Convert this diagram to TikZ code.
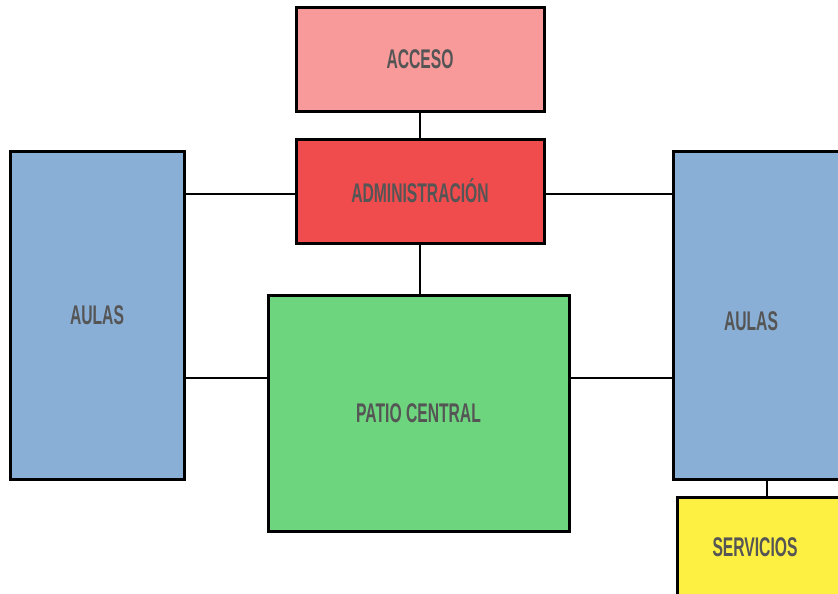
\documentclass[tikz,border=0pt]{standalone}
\usepackage{fontspec}
\setmainfont{Liberation Sans}
\usepackage{graphicx}
\usetikzlibrary{positioning,calc}

\definecolor{accesoC}{HTML}{F8999A}
\definecolor{adminC}{HTML}{F04C4E}
\definecolor{aulaC}{HTML}{8AAFD6}
\definecolor{patioC}{HTML}{6ED57F}
\definecolor{servC}{HTML}{FDF042}
\definecolor{txtC}{HTML}{555555}

\newcommand{\zona}[1]{\scalebox{0.58}[1]{\bfseries #1}}

\begin{document}
\begin{tikzpicture}[
  x=1pt, y=-1pt,
  zone/.style={draw=black, line width=3pt, inner sep=0pt, outer sep=0pt,
    font=\fontsize{27}{29}\selectfont, text=txtC},
  wall/.style={line width=2.5pt, black},
  lbl/.style={font=\fontsize{27}{29}\selectfont, text=txtC}
]
  \useasboundingbox (0,0) rectangle (838,594);
  \clip (0,0) rectangle (838,594);

  % ── Zones ──
  \node[zone, fill=accesoC, minimum width=248pt, minimum height=103pt]
    (acceso) at (420,59.5) {\zona{ACCESO}};
  \node[zone, fill=adminC, minimum width=248pt, minimum height=104pt]
    (admin) at (420,191) {\raisebox{-3pt}{\zona{ADMINISTRACIÓN}}};
  \node[zone, fill=aulaC, minimum width=174pt, minimum height=328pt]
    (aulaL) at (97,315) {\zona{AULAS}};
  \node[zone, fill=aulaC, minimum width=188pt, minimum height=328pt]
    (aulaR) at (767,315) {};
  \node[lbl] (aulaRtxt) at (751,321) {\zona{AULAS}};
  \node[zone, fill=patioC, minimum width=301pt, minimum height=236pt]
    (patio) at (418.5,413) {\zona{PATIO CENTRAL}};
  \node[zone, fill=servC, minimum width=180pt, minimum height=126pt]
    (serv) at (767,560) {};
  \node[lbl] (servtxt) at (755,547) {\zona{SERVICIOS}};

  % ── Links ──
  \draw[wall] (acceso.south) -- (admin.north);
  \draw[wall] (admin.south) -- (patio.north -| admin.south);
  \draw[wall] ([yshift=-3pt]admin.west) -- ([yshift=-3pt]admin.west -| aulaL.east);
  \draw[wall] ([yshift=-3pt]admin.east) -- ([yshift=-3pt]admin.east -| aulaR.west);
  \draw[wall] ([yshift=35pt]patio.west) -- ([yshift=35pt]patio.west -| aulaL.east);
  \draw[wall] ([yshift=35pt]patio.east) -- ([yshift=35pt]patio.east -| aulaR.west);
  \draw[wall] (aulaR.south) -- (serv.north);

\end{tikzpicture}
\end{document}
